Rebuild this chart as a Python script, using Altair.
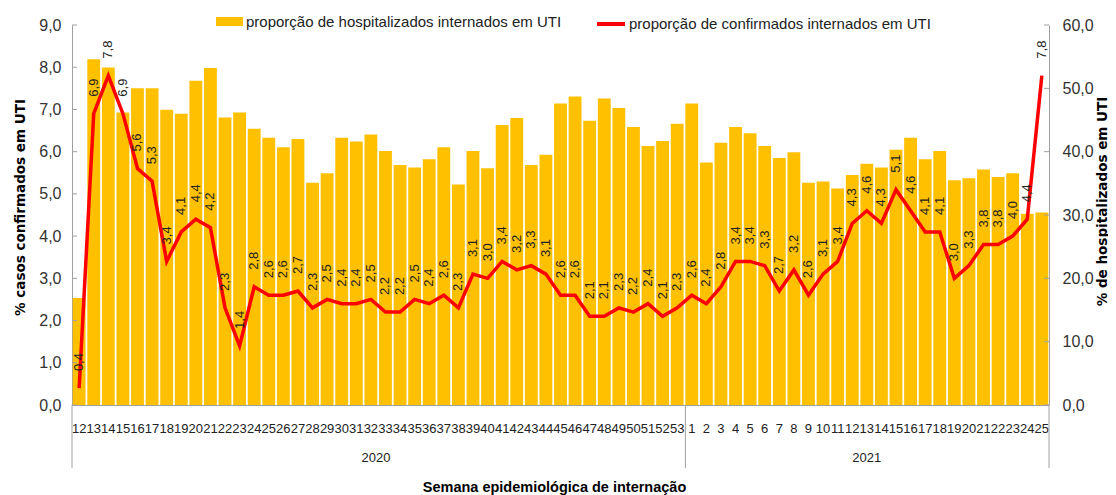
import altair as alt
import pandas as pd

# ---------------- data ----------------
weeks_2020 = list(range(12, 54))
weeks_2021 = list(range(1, 26))

hosp_uti_2020 = [16.9, 54.6, 53.3, 46.2, 50.0, 50.0, 46.6, 46.0, 51.2, 53.2,
                 45.4, 46.2, 43.6, 42.2, 40.7, 42.0, 35.1, 36.6, 42.2, 41.6,
                 42.7, 40.1, 37.9, 37.5, 38.8, 40.7, 34.8, 40.1, 37.4, 44.2,
                 45.3, 37.9, 39.5, 47.6, 48.7, 44.9, 48.4, 46.9, 43.9, 40.9,
                 41.7, 44.4]
hosp_uti_2021 = [47.6, 38.3, 41.4, 43.9, 42.9, 40.9, 39.0, 39.9, 35.1, 35.3,
                 34.2, 36.3, 38.1, 37.5, 40.3, 42.2, 38.8, 40.1, 35.5, 35.8,
                 37.2, 36.0, 36.6, 30.2, 30.4]

conf_uti_2020 = [0.4, 6.9, 7.8, 6.9, 5.6, 5.3, 3.4, 4.1, 4.4, 4.2,
                 2.3, 1.4, 2.8, 2.6, 2.6, 2.7, 2.3, 2.5, 2.4, 2.4,
                 2.5, 2.2, 2.2, 2.5, 2.4, 2.6, 2.3, 3.1, 3.0, 3.4,
                 3.2, 3.3, 3.1, 2.6, 2.6, 2.1, 2.1, 2.3, 2.2, 2.4,
                 2.1, 2.3]
conf_uti_2021 = [2.6, 2.4, 2.8, 3.4, 3.4, 3.3, 2.7, 3.2, 2.6, 3.1,
                 3.4, 4.3, 4.6, 4.3, 5.1, 4.6, 4.1, 4.1, 3.0, 3.3,
                 3.8, 3.8, 4.0, 4.4, 7.8]

left_ticks = [0, 1, 2, 3, 4, 5, 6, 7, 8, 9]
right_ticks = [0, 10, 20, 30, 40, 50, 60]

years = ["2020", "2021"]
series_bar = "proporção de hospitalizados internados em UTI"
series_line = "proporção de confirmados internados em UTI"
left_title = "%  casos confirmados  em UTI"
right_title = "% de hospitalizados  em UTI"
x_title = "Semana epidemiológica  de internação"

# ---------------- tables ----------------
keys = [f"2020-{w}" for w in weeks_2020] + [f"2021-{w}" for w in weeks_2021]
df = pd.DataFrame({
    "key": keys,
    "hosp": hosp_uti_2020 + hosp_uti_2021,
    "conf": conf_uti_2020 + conf_uti_2021,
})
df["conf_label"] = [f"{v:.1f}".replace(".", ",") for v in df["conf"]]
df["s_bar"] = series_bar
df["s_line"] = series_line

FONT = "Liberation Sans, Arial, sans-serif"
TFONT = "DejaVu Sans, Liberation Sans, sans-serif"
W, H = 977, 380

xscale = alt.Scale(domain=keys, paddingInner=0.12, paddingOuter=0.05)
xaxis = alt.Axis(
    labelExpr="split(datum.label, '-')[1]", labelAngle=0, labelFontSize=13,
    labelOverlap=False, ticks=False, labelPadding=17, domainColor="#a0a0a0",
    labelColor="#222222", title=x_title, titleFontSize=14.5, titleFontWeight="bold",
    titleX=482, titleY=82, titleBaseline="middle", titleColor="#000000",
)

def X(**kw):
    return alt.X("key:N", scale=xscale, axis=xaxis, **kw)

lscale = alt.Scale(domain=[0, 9], nice=False, zero=True)
laxis = alt.Axis(
    orient="left", values=left_ticks, tickSize=0, labelPadding=11,
    labelExpr="replace(format(datum.value, '.1f'), '.', ',')",
    labelFontSize=16, labelColor="#333333", domainColor="#a0a0a0", grid=False,
    title=left_title, titleFont=TFONT, titleFontSize=13.5, titleFontWeight="bold",
    titleColor="#000000", titleAngle=270, titleX=-52, titleY=182,
    titleAlign="center", titleBaseline="middle",
)
rscale = alt.Scale(domain=[0, 60], nice=False, zero=True)
raxis = alt.Axis(
    orient="right", values=right_ticks, tickSize=0, labelPadding=13,
    labelExpr="replace(format(datum.value, '.1f'), '.', ',')",
    labelFontSize=16, labelColor="#333333", domainColor="#a0a0a0", grid=False,
    title=right_title, titleFont=TFONT, titleFontSize=13.5, titleFontWeight="bold",
    titleColor="#000000", titleAngle=270, titleX=53, titleY=176,
    titleAlign="center", titleBaseline="middle",
)

base = alt.Chart(df)

bars = base.mark_bar().encode(
    x=X(),
    y=alt.Y("hosp:Q", scale=rscale, axis=raxis),
    fill=alt.Fill("s_bar:N", scale=alt.Scale(domain=[series_bar], range=["#FFC000"]),
                  legend=alt.Legend(orient="none", legendX=144, legendY=-17, title=None,
                                    padding=0, symbolType="M-1,-0.333H1V0.333H-1Z",
                                    symbolSize=729, symbolStrokeWidth=0, labelOffset=3,
                                    labelLimit=500, labelFontSize=15,
                                    labelColor="#222222", labelFont=FONT)),
)
rticks = alt.Chart(pd.DataFrame({"t": right_ticks})).mark_rule(color="#a0a0a0").encode(
    y=alt.Y("t:Q", scale=rscale, axis=raxis), x=alt.value(W - 5), x2=alt.value(W)
)
bar_group = alt.layer(bars, rticks)

line = base.mark_line(strokeWidth=3.5).encode(
    x=X(),
    y=alt.Y("conf:Q", scale=lscale, axis=laxis),
    stroke=alt.Stroke("s_line:N", scale=alt.Scale(domain=[series_line], range=["#FF0000"]),
                      legend=alt.Legend(orient="none", legendX=523, legendY=-17, title=None,
                                        padding=0, symbolType="stroke", symbolSize=784,
                                        symbolStrokeWidth=4, labelOffset=2, labelLimit=500,
                                        labelFontSize=15, labelColor="#222222",
                                        labelFont=FONT)),
)
labels = base.mark_text(angle=270, align="left", baseline="middle", dx=17,
                        fontSize=13, font=FONT, color="#222222").encode(
    x=X(), y=alt.Y("conf:Q", scale=lscale, axis=laxis), text="conf_label:N"
)
lticks = alt.Chart(pd.DataFrame({"t": left_ticks})).mark_rule(color="#a0a0a0").encode(
    y=alt.Y("t:Q", scale=lscale, axis=laxis), x=alt.value(0), x2=alt.value(5)
)

sep_df = pd.DataFrame({"key": [f"2021-{weeks_2021[0]}"]})
sep_mid = alt.Chart(sep_df).mark_rule(color="#a0a0a0").encode(
    x=X(bandPosition=0), y=alt.value(H), y2=alt.value(H + 63)
)
sep_left = alt.Chart(sep_df).mark_rule(color="#a0a0a0").encode(
    x=alt.value(0), y=alt.value(H), y2=alt.value(H + 63)
)
sep_right = alt.Chart(sep_df).mark_rule(color="#a0a0a0").encode(
    x=alt.value(W), y=alt.value(H), y2=alt.value(H + 63)
)

n20 = len(weeks_2020)
y2020 = alt.Chart(pd.DataFrame({"key": [keys[n20 // 2]], "lab": [years[0]]})).mark_text(
    fontSize=13, font=FONT, color="#222222", baseline="middle", dx=-3).encode(
    x=X(bandPosition=0), y=alt.value(H + 53), text="lab:N"
)
n21 = len(weeks_2021)
y2021 = alt.Chart(pd.DataFrame({"key": [keys[n20 + n21 // 2]], "lab": [years[1]]})).mark_text(
    fontSize=13, font=FONT, color="#222222", baseline="middle").encode(
    x=X(), y=alt.value(H + 53), text="lab:N"
)

line_group = alt.layer(line, labels, lticks, sep_mid, sep_left, sep_right, y2020, y2021)

chart = alt.layer(bar_group, line_group).resolve_scale(
    y="independent", fill="independent", stroke="independent"
).properties(
    width=W, height=H,
    autosize=alt.AutoSizeParams(type="none"),
    padding={"left": 64, "top": 17, "right": 59, "bottom": 90},
).configure_view(stroke=None).configure_axis(
    labelFont=FONT, titleFont=FONT
).configure_text(font=FONT)

chart.save("out.html", embed_options={"renderer": "svg", "actions": False})
